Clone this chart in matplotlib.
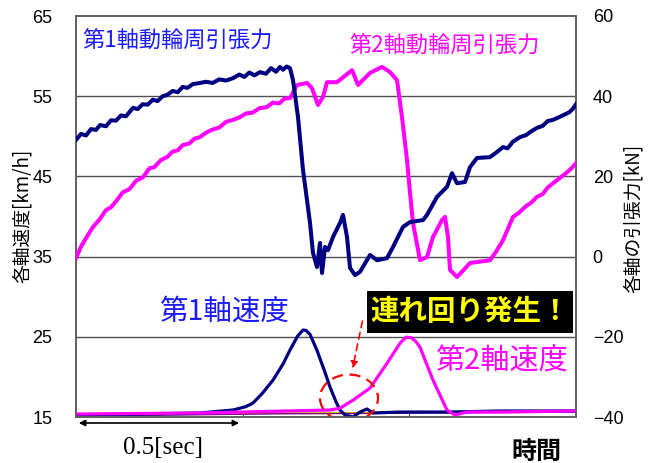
import matplotlib
matplotlib.use("Agg")
import matplotlib.pyplot as plt
from matplotlib.patches import Ellipse, Rectangle, FancyArrowPatch

JP = ["Noto Sans CJK JP", "DejaVu Sans"]
NUM = ["Liberation Sans", "DejaVu Sans"]

# --- traction force of each axle [kN] (right axis) ---
t_f1 = [0.000, 0.015, 0.030, 0.045, 0.060, 0.072, 0.090, 0.105, 0.120, 0.135,
        0.150, 0.171, 0.185, 0.200, 0.215, 0.230, 0.245, 0.260, 0.273, 0.290,
        0.305, 0.320, 0.335, 0.350, 0.372, 0.390, 0.410, 0.430, 0.450, 0.471,
        0.490, 0.505, 0.520, 0.535, 0.552, 0.570, 0.585, 0.600, 0.612, 0.621,
        0.632, 0.642, 0.651,
        0.666, 0.681, 0.693, 0.702, 0.711, 0.723, 0.732, 0.738, 0.747, 0.756,
        0.771, 0.792, 0.801, 0.813, 0.822, 0.837, 0.852, 0.882, 0.903, 0.933,
        0.951, 0.981, 1.002, 1.041, 1.053, 1.083, 1.113, 1.128, 1.143, 1.167,
        1.182, 1.203, 1.242, 1.260, 1.281, 1.295, 1.310, 1.332, 1.350, 1.365,
        1.383, 1.400, 1.415, 1.431, 1.450, 1.465, 1.480, 1.490, 1.500]
f1 = [29.1, 30.6, 30.2, 31.8, 31.6, 32.8, 32.5, 34.0, 33.9, 35.2,
      35.0, 37.1, 36.8, 38.0, 37.9, 39.1, 38.8, 40.0, 40.3, 41.3,
      41.0, 42.3, 42.1, 43.0, 43.3, 43.6, 43.3, 44.2, 43.9, 44.5,
      45.4, 44.8, 45.9, 45.2, 46.0, 45.6, 47.0, 46.1, 47.3, 46.6,
      47.4, 47.0, 44.0,
      34.8, 21.6, 14.1, 8.4, 0.9, -2.6, 3.4, -4.1, 2.4, 1.6,
      4.9, 8.4, 10.4, 4.9, -2.8, -4.6, -3.8, 0.4, -0.9, -0.4,
      2.4, 7.4, 8.6, 9.1, 10.4, 14.9, 17.4, 20.8, 18.3, 18.6,
      22.3, 24.6, 24.8, 25.9, 27.3, 27.0, 28.6, 29.8, 30.3, 31.2,
      32.1, 32.6, 33.8, 34.1, 34.8, 35.4, 36.0, 36.8, 38.0]

t_f2 = [0.000, 0.015, 0.030, 0.051, 0.070, 0.090, 0.105, 0.123, 0.140, 0.160,
        0.180, 0.201, 0.220, 0.235, 0.255, 0.273, 0.290, 0.305, 0.320, 0.340,
        0.355, 0.372, 0.390, 0.410, 0.430, 0.450, 0.471, 0.490, 0.510, 0.530,
        0.550, 0.573, 0.590, 0.610, 0.625, 0.642, 0.663,
        0.693, 0.708, 0.726, 0.741, 0.753, 0.783, 0.828, 0.846, 0.882, 0.918,
        0.942, 0.963, 0.978, 0.993, 1.002, 1.011, 1.032, 1.053, 1.071, 1.098,
        1.107, 1.116, 1.122, 1.143, 1.182, 1.242, 1.260, 1.281, 1.295, 1.311,
        1.330, 1.350, 1.365, 1.383, 1.400, 1.415, 1.431, 1.450, 1.470, 1.485,
        1.500]
f2 = [-0.4, 2.5, 4.6, 7.4, 9.2, 11.6, 12.3, 14.1, 16.0, 16.8,
      18.9, 19.8, 22.0, 22.3, 24.1, 24.8, 26.2, 26.5, 27.8, 28.2,
      29.4, 29.8, 30.9, 31.7, 32.2, 33.6, 34.1, 34.7, 35.7, 35.9,
      37.0, 37.3, 38.4, 38.2, 39.4, 39.5, 42.8,
      43.3, 42.0, 37.8, 39.8, 43.5, 43.5, 46.5, 42.8, 45.8, 47.3,
      46.0, 44.0, 34.8, 24.1, 15.9, 8.4, -0.9, -0.1, 4.9, 9.1,
      9.9, 4.9, -3.3, -5.1, -1.6, -0.9, 1.2, 4.1, 6.8, 9.9,
      11.0, 12.6, 13.4, 14.9, 15.6, 17.2, 18.3, 19.5, 20.8, 21.9,
      23.3]

# --- speed of each axle [km/h] (left axis) ---
t_v1 = [0.000, 0.372, 0.471, 0.510, 0.531, 0.560, 0.591, 0.621, 0.642, 0.665,
        0.681, 0.690, 0.702, 0.723, 0.745, 0.762, 0.780, 0.792, 0.807, 0.831,
        0.852, 0.873, 0.891, 0.972, 1.122, 1.272, 1.500]
v1 = [15.25, 15.5, 15.87, 16.3, 16.74, 18.0, 19.6, 21.6, 23.35, 25.1,
      25.84, 25.8, 25.3, 23.3, 20.8, 18.74, 16.9, 15.87, 15.25, 15.0,
      15.62, 16.0, 15.5, 15.62, 15.62, 15.75, 15.75]

t_v2 = [0.000, 0.372, 0.762, 0.792, 0.831, 0.882, 0.933, 0.972, 0.990, 1.005,
        1.020, 1.032, 1.071, 1.113, 1.137, 1.173, 1.272, 1.500]
v2 = [15.37, 15.5, 15.87, 16.1, 17.1, 18.6, 21.7, 24.2, 24.95, 24.9,
      24.4, 23.7, 19.6, 15.87, 15.25, 15.62, 15.62, 15.75]

# remaining axles stay near the base speed
t_base = [0.0, 0.3, 0.6, 0.9, 1.2, 1.5]
v3 = [15.2, 15.3, 15.45, 15.5, 15.6, 15.65]
v4 = [15.3, 15.35, 15.5, 15.55, 15.65, 15.7]
v5 = [15.15, 15.25, 15.4, 15.45, 15.55, 15.6]

speed_ticks = [15, 25, 35, 45, 55, 65]
force_ticks = [-40, -20, 0, 20, 40, 60]

NAVY = "#000080"
MAGENTA = "#ff00ff"
TXT_BLUE = "#1a1aff"

fig = plt.figure(figsize=(6.5, 4.63), dpi=100)
ax = fig.add_axes([76 / 650, 46 / 463, 500 / 650, 401 / 463])
ax2 = ax.twinx()

ax.set_xlim(0, 1.5)
ax.set_ylim(15, 65)
ax2.set_ylim(-40, 60)

for g in speed_ticks[1:-1]:
    ax.axhline(g, color="#505050", lw=1.0, zorder=1)

ax.plot(t_base, v3, color="#00c8c8", lw=1.0, zorder=2)
ax.plot(t_base, v4, color="#d8d800", lw=1.0, zorder=2)
ax.plot(t_base, v5, color="#800080", lw=1.0, zorder=2)
ax.plot(t_v1, v1, color=NAVY, lw=2.3, zorder=3)
ax.plot(t_v2, v2, color=MAGENTA, lw=2.3, zorder=3)

ax2.plot(t_f2, f2, color=MAGENTA, lw=2.9, zorder=3)
ax2.plot(t_f1, f1, color=NAVY, lw=2.9, zorder=3)

ax.set_yticks(speed_ticks)
ax2.set_yticks(force_ticks)
ax.set_yticklabels([str(v) for v in speed_ticks], fontsize=13, family=NUM)
ax2.set_yticklabels([str(v).replace("-", "\u2212") for v in force_ticks],
                    fontsize=13, family=NUM)
ax.tick_params(axis="y", length=0, pad=17)
ax2.tick_params(axis="y", length=0, pad=12)
ax.set_xticks([0.5, 1.0])
ax.set_xticklabels([])
ax.tick_params(axis="x", direction="in", length=4, color="#404040")
ax2.tick_params(axis="x", length=0)

for a in (ax, ax2):
    for s in a.spines.values():
        s.set_color("#606060")
        s.set_linewidth(1.2)

# series labels
ax.text(0.013, 0.940, "第1軸動輪周引張力", transform=ax.transAxes, color=TXT_BLUE,
        fontsize=16, family=JP, va="center", ha="left")
ax.text(0.547, 0.928, "第2軸動輪周引張力", transform=ax.transAxes, color=MAGENTA,
        fontsize=16, family=JP, va="center", ha="left")
ax.text(0.166, 0.262, "第1軸速度", transform=ax.transAxes, color=TXT_BLUE,
        fontsize=20.5, family=JP, va="center", ha="left")
ax.text(0.718, 0.137, "第2軸速度", transform=ax.transAxes, color=MAGENTA,
        fontsize=21, family=JP, va="center", ha="left")

# highlighted callout
ax.add_patch(Rectangle((0.582, 0.2095), 0.412, 0.1045, transform=ax.transAxes,
                       facecolor="black", edgecolor="none", zorder=5))
ax.text(0.788, 0.262, "連れ回り発生！", transform=ax.transAxes, color="#ffff00",
        fontsize=20.5, family=JP, weight="bold", va="center", ha="center", zorder=6)

ax.add_patch(Ellipse((0.819, 17.36), 0.174, 5.86, fill=False, edgecolor="red",
                     lw=1.6, linestyle=(0, (5, 3)), zorder=4))
ax.add_patch(FancyArrowPatch((0.861, 27.3), (0.828, 20.7), arrowstyle="-|>",
                             mutation_scale=10, color="red", lw=1.2,
                             linestyle=(0, (4, 3)), zorder=4))

# axis titles
fig.text(0.034, 0.533, "各軸速度[km/h]", rotation=90, fontsize=13.5, family=JP,
         va="center", ha="center")
fig.text(0.974, 0.529, "各軸の引張力[kN]", rotation=90, fontsize=13.5, family=JP,
         va="center", ha="center")

# time scale
fig.add_artist(FancyArrowPatch((76 / 650, 0.0864), (242 / 650, 0.0864),
                               transform=fig.transFigure, arrowstyle="<|-|>",
                               mutation_scale=9, color="black", lw=1.2))
fig.text(0.251, 0.032, "0.5[sec]", fontsize=18,
         family=["Liberation Serif", "DejaVu Serif"], va="center", ha="center")
fig.text(0.826, 0.024, "時間", fontsize=18, family=JP, weight="bold",
         va="center", ha="center")

fig.savefig("out.png", dpi=100)
